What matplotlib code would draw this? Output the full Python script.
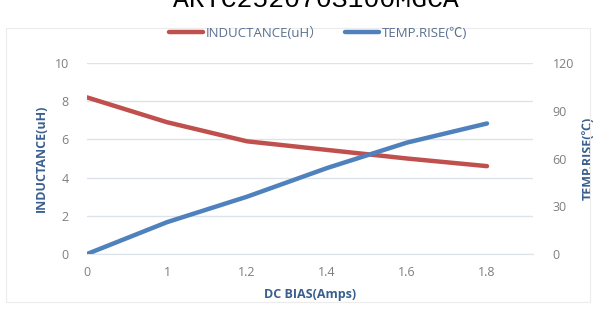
import matplotlib
matplotlib.use('Agg')
import matplotlib.pyplot as plt
from matplotlib.patches import Rectangle

# data
bias = ['0', '1', '1.2', '1.4', '1.6', '1.8']
inductance = [8.2, 6.9, 5.9, 5.45, 5.0, 4.6]
temp_rise = [0, 20, 36, 54, 70, 82]

fonts = ['Open Sans', 'Noto Sans CJK SC', 'DejaVu Sans']
red = '#C0504D'
blue = '#4F81BD'
tick_col = '#7f7f7f'
lab_col = '#3A5F8F'

fig = plt.figure(figsize=(6.07, 3.13), dpi=100)
fig.patches.append(Rectangle((6/607, 1-302/313), 584/607, 274/313, transform=fig.transFigure,
                             fill=False, edgecolor='#ececec', lw=0.8))

ax = fig.add_axes([87/607, 1-254/313, 446/607, 191/313])
x = list(range(len(bias)))
l1, = ax.plot(x, inductance, color=red, lw=3.2, solid_capstyle='round', label='INDUCTANCE(uH）')
ax.set_ylim(0, 10)
ax.set_yticks([0, 2, 4, 6, 8, 10])
ax.set_xlim(0, 5.575)
ax.set_xticks(x)
ax.set_xticklabels(bias)
ax.grid(axis='y', color='#dde3ea', lw=1)
ax.set_axisbelow(True)
for s in ['top', 'right', 'left']:
    ax.spines[s].set_visible(False)
ax.spines['bottom'].set_color('#dde3ea')
ax.tick_params(length=0, colors=tick_col, labelsize=9, pad=13)
ax.tick_params(axis='x', pad=9)
for t in ax.get_xticklabels() + ax.get_yticklabels():
    t.set_family(fonts)
ax.set_xlabel('DC BIAS(Amps)', color=lab_col, fontsize=9, fontweight='bold', family=fonts, labelpad=6)
ax.set_ylabel('INDUCTANCE(uH)', color=lab_col, fontsize=9, fontweight='bold', family=fonts, labelpad=5)

ax2 = ax.twinx()
l2, = ax2.plot(x, temp_rise, color=blue, lw=3.2, solid_capstyle='round', label='TEMP.RISE(℃)')
ax2.set_ylim(0, 120)
ax2.set_yticks([0, 30, 60, 90, 120])
for s in ['top', 'right', 'left', 'bottom']:
    ax2.spines[s].set_visible(False)
ax2.tick_params(length=0, colors=tick_col, labelsize=9, pad=14)
for t in ax2.get_yticklabels():
    t.set_family(fonts)
ax2.set_ylabel('TEMP.RISE(℃)', color=lab_col, fontsize=9, fontweight='bold', family=fonts, labelpad=6)

leg = fig.legend([l1, l2], [l1.get_label(), l2.get_label()], loc='center', bbox_to_anchor=(318/607, 1-33/313),
                 ncol=2, frameon=False, handlelength=2.6, handletextpad=0.2, columnspacing=1.6,
                 prop={'family': fonts, 'size': 9.5})
for t in leg.get_texts():
    t.set_color('#5a6f8f')

fig.text(316/607, 1-7/313, 'ARTC252070S100MGCA', ha='center', va='baseline',
         family='Liberation Mono', fontsize=19, color='black')

fig.savefig('out.png', dpi=100)
